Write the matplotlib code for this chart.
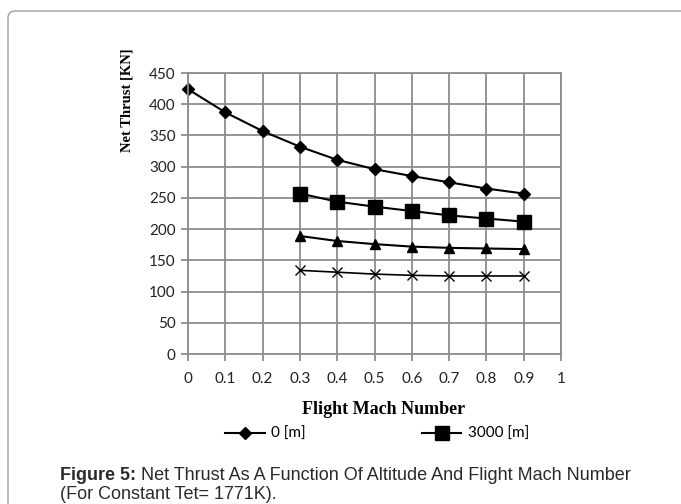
import matplotlib
matplotlib.use("Agg")
import matplotlib.pyplot as plt
from matplotlib.patches import FancyBboxPatch

# Flight Mach number and net thrust [KN] at each altitude
mach_sl = [0.0, 0.1, 0.2, 0.3, 0.4, 0.5, 0.6, 0.7, 0.8, 0.9]
thrust_0m = [424, 387, 357, 332, 311, 296, 285, 275, 265, 257]

mach = [0.3, 0.4, 0.5, 0.6, 0.7, 0.8, 0.9]
thrust_3000m = [257, 244, 236, 229, 222, 217, 212]
thrust_6000m = [189, 181, 176, 172, 170, 169, 168]
thrust_9000m = [134, 131, 128, 126, 125, 125, 125]

x_ticks = [0, 0.1, 0.2, 0.3, 0.4, 0.5, 0.6, 0.7, 0.8, 0.9, 1]
y_ticks = [0, 50, 100, 150, 200, 250, 300, 350, 400, 450]

tick_font = "Lato"
serif = "Liberation Serif"
sans = "Liberation Sans"

fig = plt.figure(figsize=(6.81, 5.04), dpi=100)

# rounded frame around the figure panel
frame = FancyBboxPatch((0.08, -1.0), 9.0, 5.93,
                       boxstyle="round,pad=0,rounding_size=0.07",
                       transform=fig.dpi_scale_trans, fill=False,
                       edgecolor="#a0a0a0", linewidth=1.0)
fig.patches.append(frame)

ax = fig.add_axes([0.2761, 0.2976, 0.5477, 0.5575])

style = dict(color="black", mfc="black", mec="black", clip_on=False)
l0, = ax.plot(mach_sl, thrust_0m, lw=1.5, marker="D", markersize=6,
              label="0 [m]", **style)
l1, = ax.plot(mach, thrust_3000m, lw=1.5, marker="s", markersize=10,
              label="3000 [m]", **style)
ax.plot(mach, thrust_6000m, lw=1.5, marker="^", markersize=7,
        label="6000 [m]", **style)
ax.plot(mach, thrust_9000m, lw=1.2, marker="x", markersize=7,
        markeredgewidth=1.0, label="9000 [m]", **style)

ax.set_xlim(0, 1)
ax.set_ylim(0, 450)
ax.set_xticks(x_ticks)
ax.set_yticks(y_ticks)
ax.set_xticklabels([f"{t:g}" for t in x_ticks], fontfamily=tick_font, fontsize=11)
ax.set_yticklabels([str(t) for t in y_ticks], fontfamily=tick_font, fontsize=11)
ax.grid(True, color="#8c8c8c", linewidth=1.3)
ax.set_axisbelow(True)
for side in ["top", "right", "left", "bottom"]:
    ax.spines[side].set_color("#8c8c8c")
    ax.spines[side].set_linewidth(1.3)
ax.tick_params(axis="both", colors="#8c8c8c", length=5, width=1.3,
               labelcolor="#222222", pad=4)
ax.tick_params(axis="x", pad=8)

fig.text(127 / 681, 1 - 100 / 504, "Net Thrust [KN]", rotation=90,
         ha="center", va="center", fontfamily=serif, fontweight="bold",
         fontsize=10.5)
fig.text(384 / 681, 1 - 409 / 504, "Flight Mach Number", ha="center",
         va="center", fontfamily=serif, fontweight="bold", fontsize=13)

fig.legend(handles=[l0, l1], loc="center", bbox_to_anchor=(377 / 681, 1 - 434 / 504),
           ncol=2, frameon=False, handlelength=2.6, handletextpad=0.4,
           columnspacing=7.6, prop={"family": tick_font, "size": 11})

fig.text(60 / 681, 1 - 480 / 504, "Figure 5:", ha="left", va="baseline",
         fontfamily=sans, fontweight="bold", fontsize=13, color="#2a2a2a")
fig.text(141 / 681, 1 - 480 / 504,
         "Net Thrust As A Function Of Altitude And Flight Mach Number",
         ha="left", va="baseline", fontfamily=sans, fontsize=13, color="#2a2a2a")
fig.text(60 / 681, 1 - 499 / 504, "(For Constant Tet= 1771K).", ha="left",
         va="baseline", fontfamily=sans, fontsize=13, color="#2a2a2a")

fig.savefig("out.png", dpi=100)
